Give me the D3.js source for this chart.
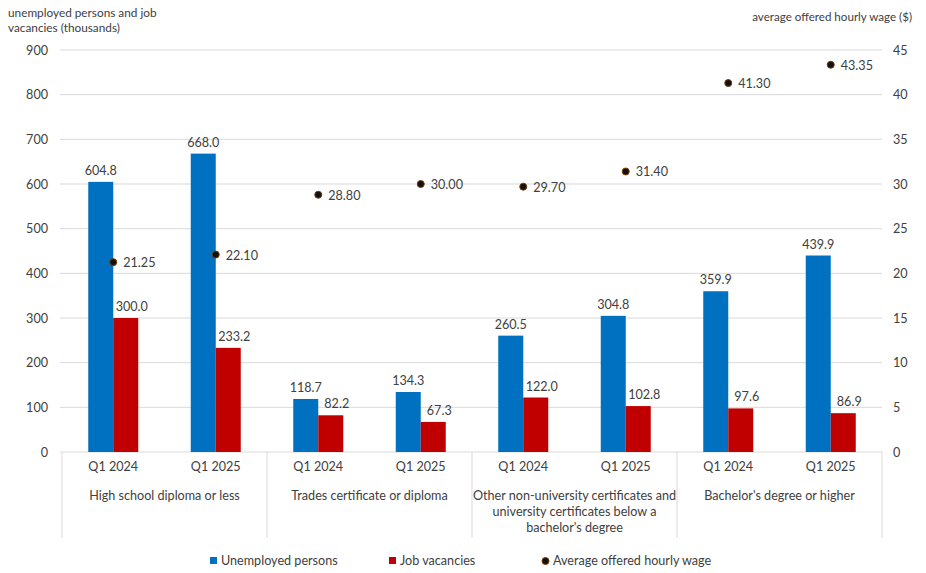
<!DOCTYPE html>
<html>
<head>
<meta charset="utf-8">
<script src="https://cdn.jsdelivr.net/npm/d3@7"></script>
<style>
  body { margin: 0; background: #fff; }
  text { font-family: Lato, "Open Sans", sans-serif; fill: #404040; }
</style>
</head>
<body>
<div id="vis"></div>
<script>
const groups = ["High school diploma or less", "Trades certificate or diploma",
  "Other non-university certificates and|university certificates below a|bachelor's degree",
  "Bachelor's degree or higher"];
const quarters = ["Q1 2024", "Q1 2025"];
const unemployed = [604.8, 668.0, 118.7, 134.3, 260.5, 304.8, 359.9, 439.9];
const vacancies = [300.0, 233.2, 82.2, 67.3, 122.0, 102.8, 97.6, 86.9];
const wages = [21.25, 22.10, 28.80, 30.00, 29.70, 31.40, 41.30, 43.35];
const leftTicks = [0, 100, 200, 300, 400, 500, 600, 700, 800, 900];
const rightTicks = [0, 5, 10, 15, 20, 25, 30, 35, 40, 45];

const WIDTH = 926, HEIGHT = 573;
const MARG = {left: 62, right: 44, top: 50, bottom: 121};
const BLUE = "#0070C0", RED = "#C00000";
const FS = 12.6;

const svg = d3.select("#vis").append("svg")
  .attr("width", WIDTH).attr("height", HEIGHT);

const idx = d3.range(unemployed.length);
const X = d3.scaleBand().domain(idx).range([MARG.left, WIDTH - MARG.right]);
const XS = d3.scaleBand().domain(["u", "v"]).range([0, 50]);
const Y = d3.scaleLinear().domain([0, 900]).range([HEIGHT - MARG.bottom, MARG.top]);
const Y2 = d3.scaleLinear().domain([0, 45]).range([HEIGHT - MARG.bottom, MARG.top]);

// gridlines
svg.append("g").selectAll("line").data(leftTicks).enter().append("line")
  .attr("x1", MARG.left - 2).attr("x2", WIDTH - MARG.right)
  .attr("y1", d => Y(d)).attr("y2", d => Y(d))
  .attr("stroke", "#d9d9d9").attr("stroke-width", 1);

// left axis
const yAxis = svg.append("g").attr("transform", "translate(" + (MARG.left - 14) + ",0)")
  .call(d3.axisLeft(Y).tickValues(leftTicks).tickSize(0).tickPadding(0));
yAxis.select(".domain").remove();
yAxis.selectAll("text").attr("font-size", FS).style("font-family", "Lato, sans-serif");

// right axis
const y2Axis = svg.append("g").attr("transform", "translate(" + (WIDTH - MARG.right + 11) + ",0)")
  .call(d3.axisRight(Y2).tickValues(rightTicks).tickSize(0).tickPadding(0));
y2Axis.select(".domain").remove();
y2Axis.selectAll("text").attr("font-size", FS).style("font-family", "Lato, sans-serif");

// axis titles
svg.append("text").attr("x", 8).attr("y", 17).attr("font-size", 11.8)
  .text("unemployed persons and job");
svg.append("text").attr("x", 8).attr("y", 32).attr("font-size", 11.8)
  .text("vacancies (thousands)");
svg.append("text").attr("x", 912).attr("y", 21).attr("font-size", 11.6)
  .attr("text-anchor", "end").text("average offered hourly wage ($)");

// bars
const cx = i => X(i) + X.bandwidth() / 2;
svg.append("g").selectAll("rect").data(idx).enter().append("rect")
  .attr("x", i => cx(i) - 25 + XS("u")).attr("width", XS.bandwidth())
  .attr("y", i => Y(unemployed[i])).attr("height", i => Y(0) - Y(unemployed[i]))
  .attr("fill", BLUE);
svg.append("g").selectAll("rect").data(idx).enter().append("rect")
  .attr("x", i => cx(i) - 25 + XS("v")).attr("width", XS.bandwidth())
  .attr("y", i => Y(vacancies[i])).attr("height", i => Y(0) - Y(vacancies[i]))
  .attr("fill", RED);

// bar labels
svg.append("g").selectAll("text").data(idx).enter().append("text")
  .attr("x", i => cx(i) - 25 + XS("u") + XS.bandwidth() / 2)
  .attr("y", i => Y(unemployed[i]) - 7)
  .attr("text-anchor", "middle").attr("font-size", FS)
  .text(i => unemployed[i].toFixed(1));
svg.append("g").selectAll("text").data(idx).enter().append("text")
  .attr("x", i => cx(i) - 25 + XS("v") + XS.bandwidth() / 2 + 6)
  .attr("y", i => Y(vacancies[i]) - 7)
  .attr("text-anchor", "middle").attr("font-size", FS)
  .text(i => vacancies[i].toFixed(1));

// wage dots
svg.append("g").selectAll("circle").data(idx).enter().append("circle")
  .attr("cx", i => cx(i)).attr("cy", i => Y2(wages[i])).attr("r", 3.5)
  .attr("fill", "#111").attr("stroke", "#7a3c00").attr("stroke-width", 1);
svg.append("g").selectAll("text").data(idx).enter().append("text")
  .attr("x", i => cx(i) + 10).attr("y", i => Y2(wages[i]) + 5)
  .attr("font-size", FS).text(i => wages[i].toFixed(2));

// x axis: quarters and group separators
svg.append("g").selectAll("text").data(idx).enter().append("text")
  .attr("x", i => cx(i)).attr("y", 471).attr("text-anchor", "middle")
  .attr("font-size", FS).text(i => quarters[i % 2]);

const sep = d3.range(groups.length + 1).map(g => g < groups.length ? X(g * 2) : X(idx.length - 1) + X.bandwidth());
svg.append("g").selectAll("line").data(sep).enter().append("line")
  .attr("x1", d => d).attr("x2", d => d).attr("y1", Y(0)).attr("y2", 538)
  .attr("stroke", "#d9d9d9");

groups.forEach((g, gi) => {
  const mid = (X(gi * 2) + X(gi * 2 + 1) + X.bandwidth()) / 2;
  g.split("|").forEach((line, li) => {
    svg.append("text").attr("x", mid).attr("y", 500 + li * 16)
      .attr("text-anchor", "middle").attr("font-size", FS).text(line);
  });
});

// legend
const legend = [
  {label: "Unemployed persons", color: BLUE, x: 210, shape: "rect"},
  {label: "Job vacancies", color: RED, x: 389, shape: "rect"},
  {label: "Average offered hourly wage", color: "#111", x: 542, shape: "circle"}
];
const lg = svg.append("g").selectAll("g").data(legend).enter().append("g")
  .attr("transform", d => "translate(" + d.x + ",561)");
lg.filter(d => d.shape === "rect").append("rect")
  .attr("x", 0).attr("y", -4).attr("width", 7).attr("height", 7).attr("fill", d => d.color);
lg.filter(d => d.shape === "circle").append("circle")
  .attr("cx", 3.5).attr("cy", 0).attr("r", 3.5).attr("fill", "#111").attr("stroke", "#7a3c00");
lg.append("text").attr("x", 11).attr("y", 4).attr("font-size", FS).text(d => d.label);
</script>
</body>
</html>
